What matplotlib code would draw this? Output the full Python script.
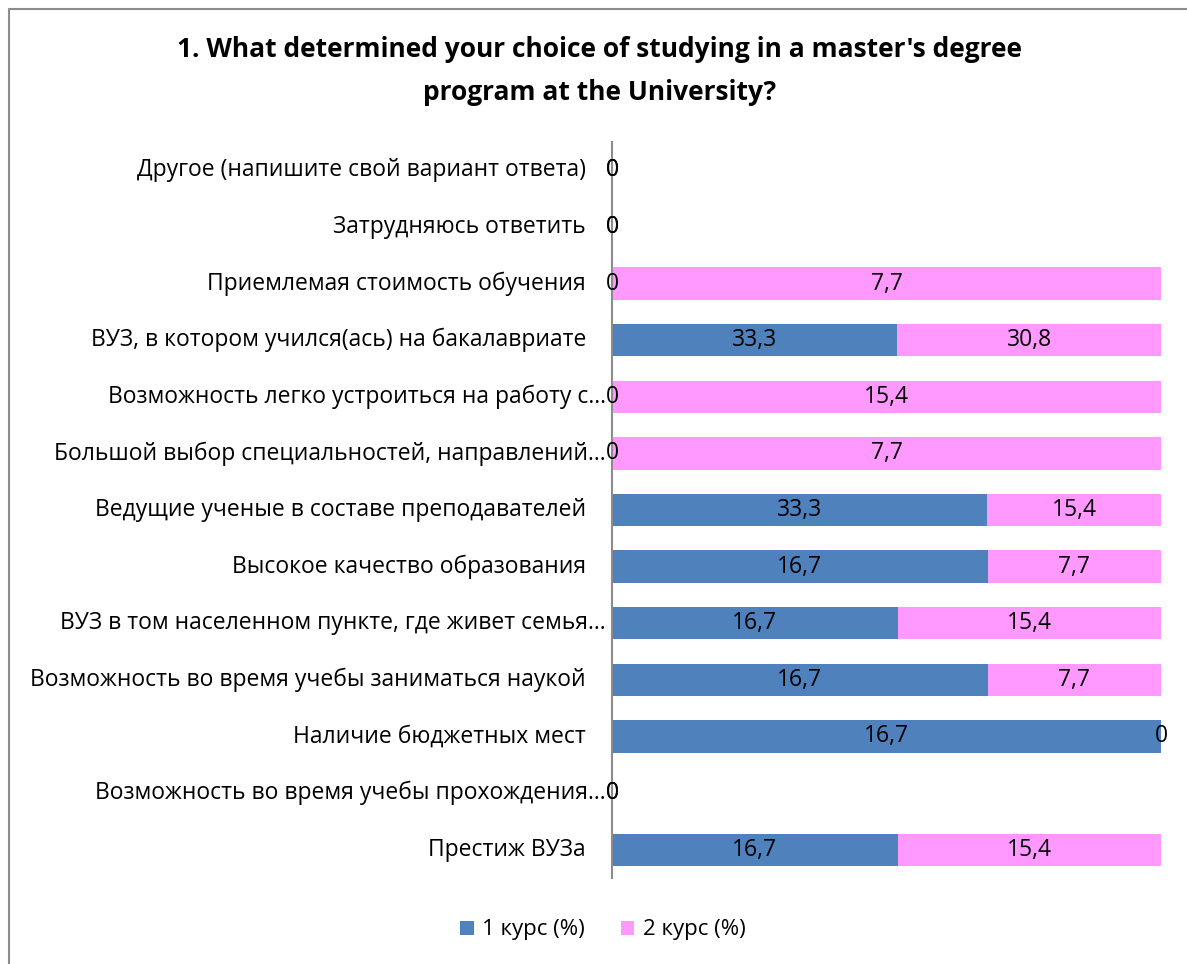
import matplotlib
matplotlib.use("Agg")
import matplotlib.pyplot as plt
from matplotlib.patches import Patch
from matplotlib.lines import Line2D
import numpy as np

plt.rcParams['font.family'] = ['Open Sans', 'DejaVu Sans']

title = "1. What determined your choice of studying in a master's degree\nprogram at the University?"

categories = [
    "Престиж ВУЗа",
    "Возможность во время учебы прохождения…",
    "Наличие бюджетных мест",
    "Возможность во время учебы заниматься наукой",
    "ВУЗ в том населенном пункте, где живет семья…",
    "Высокое качество образования",
    "Ведущие ученые в составе преподавателей",
    "Большой выбор специальностей, направлений…",
    "Возможность легко устроиться на работу с…",
    "ВУЗ, в котором учился(ась) на бакалавриате",
    "Приемлемая стоимость обучения",
    "Затрудняюсь ответить",
    "Другое (напишите свой вариант ответа)",
]
course1 = [16.7, 0, 16.7, 16.7, 16.7, 16.7, 33.3, 0, 0, 33.3, 0, 0, 0]
course2 = [15.4, 0, 0, 7.7, 15.4, 7.7, 15.4, 7.7, 15.4, 30.8, 7.7, 0, 0]
series_names = ["1 курс (%)", "2 курс (%)"]
colors = ["#4F81BD", "#FF99FF"]

W, H = 1187, 964
fig = plt.figure(figsize=(W / 100, H / 100), dpi=100)

# border (top and left visible)
fig.add_artist(Line2D([9 / W, 9 / W, 1.0], [0.0, 1 - 9 / H, 1 - 9 / H],
                      transform=fig.transFigure, color="#8C8C8C", lw=1.5))

ax = fig.add_axes([612 / W, 1 - 878 / H, (1161 - 612) / W, (878 - 142) / H])

c1 = np.array(course1, dtype=float)
c2 = np.array(course2, dtype=float)
tot = c1 + c2
s1 = np.where(tot > 0, c1 / np.where(tot > 0, tot, 1), 0)
s2 = np.where(tot > 0, c2 / np.where(tot > 0, tot, 1), 0)
y = np.arange(len(categories))
bh = 0.57

ax.barh(y, s1, height=bh, color=colors[0], label=series_names[0])
ax.barh(y, s2, left=s1, height=bh, color=colors[1], label=series_names[1])


def fmt(v):
    if v == 0:
        return "0"
    return f"{v:.1f}".replace(".", ",")


FS = 16.5
for i in range(len(categories)):
    ax.text(s1[i] / 2, y[i], fmt(c1[i]), ha="center", va="center", fontsize=FS, color="black")
    ax.text(s1[i] + s2[i] / 2, y[i], fmt(c2[i]), ha="center", va="center", fontsize=FS, color="black")

ax.set_xlim(0, 1)
ax.set_ylim(-0.5, len(categories) - 0.5)
ax.set_xticks([])
ax.set_yticks([])
for sp in ["top", "right", "bottom"]:
    ax.spines[sp].set_visible(False)
ax.spines["left"].set_color("#8C8C8C")
ax.spines["left"].set_linewidth(1.5)

# category labels
for i, cat in enumerate(categories):
    off = -26 if not cat.endswith("…") else -6
    ax.annotate(cat, xy=(0, y[i]), xycoords=ax.get_yaxis_transform(),
                xytext=(off * 0.72, 0), textcoords="offset points",
                ha="right", va="center", fontsize=FS, color="black")

fig.text(600 / W, 1 - 71 / H, title, ha="center", va="center", fontsize=19,
         fontweight="bold", linespacing=1.75)

handles = [Patch(facecolor=colors[0]), Patch(facecolor=colors[1])]
fig.legend(handles, series_names, loc="center", bbox_to_anchor=(603 / W, 1 - 930 / H),
           ncol=2, frameon=False, fontsize=16, handlelength=0.6, handleheight=0.6,
           handletextpad=0.4, columnspacing=1.6)

fig.savefig("out.png", dpi=100)
